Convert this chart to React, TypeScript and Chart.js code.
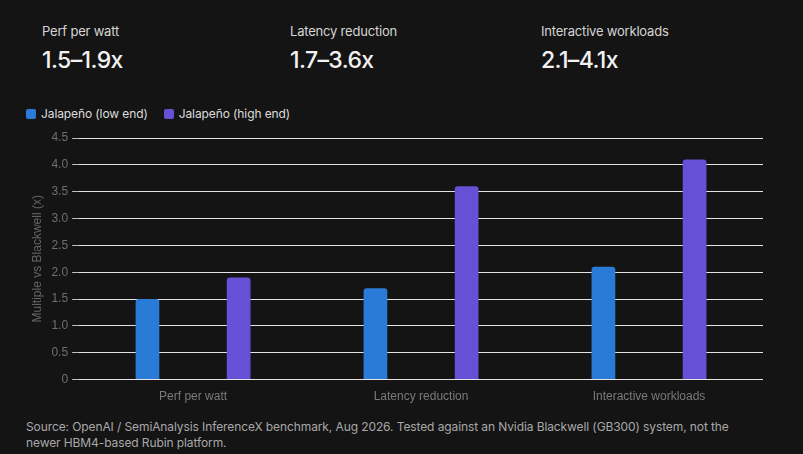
import Chart from "chart.js/auto";
import { useEffect, useRef } from "react";

const categories = ["Perf per watt", "Latency reduction", "Interactive workloads"];
const lowEnd = [1.5, 1.7, 2.1];
const highEnd = [1.9, 3.6, 4.1];
const seriesNames = ["Jalapeño (low end)", "Jalapeño (high end)"];
const seriesColors = ["#2a7bd8", "#6650d6"];
const yTicks = [0, 0.5, 1, 1.5, 2, 2.5, 3, 3.5, 4, 4.5];

const statLabels = ["Perf per watt", "Latency reduction", "Interactive workloads"];
const statValues = ["1.5–1.9x", "1.7–3.6x", "2.1–4.1x"];
const statLeft = [42, 290, 541];

const note =
  "Source: OpenAI / SemiAnalysis InferenceX benchmark, Aug 2026. Tested against an Nvidia Blackwell (GB300) system, not the newer HBM4-based Rubin platform.";

export default function App() {
  const canvasRef = useRef<HTMLCanvasElement | null>(null);

  useEffect(() => {
    document.body.style.margin = "0";
    if (!canvasRef.current) {
      return;
    }
    const ctx = canvasRef.current.getContext("2d");
    if (!ctx) {
      return;
    }

    const chart = new Chart(ctx, {
      type: "bar",
      data: {
        labels: categories,
        datasets: [
          {
            label: seriesNames[0],
            data: lowEnd,
            backgroundColor: seriesColors[0],
            borderRadius: 3,
            categoryPercentage: 0.8,
            barPercentage: 0.26,
          },
          {
            label: seriesNames[1],
            data: highEnd,
            backgroundColor: seriesColors[1],
            borderRadius: 3,
            categoryPercentage: 0.8,
            barPercentage: 0.26,
          },
        ],
      },
      options: {
        responsive: false,
        animation: false,
        layout: { padding: { top: 14, right: 0, bottom: 0, left: 0 } },
        plugins: {
          legend: { display: false },
          tooltip: { enabled: false },
        },
        scales: {
          x: {
            grid: { display: false, drawTicks: false },
            border: { color: "#e4e4e4", width: 1 },
            ticks: {
              color: "#7a7a7a",
              padding: 10,
              font: { family: "Liberation Sans", size: 12 },
            },
          },
          y: {
            min: 0,
            max: 4.5,
            afterBuildTicks: (scale) => {
              scale.ticks = yTicks.map((v) => ({ value: v }));
            },
            grid: {
              color: "#e4e4e4",
              lineWidth: 1,
              tickLength: 7,
              tickColor: "#bdbdbd",
            },
            border: { display: false },
            ticks: {
              color: "#6f6f6f",
              padding: 4,
              font: { family: "Liberation Sans", size: 12 },
              callback: (v) => (Number(v) === 0 ? "0" : Number(v).toFixed(1)),
            },
            title: {
              display: true,
              text: "Multiple vs Blackwell (x)",
              color: "#666666",
              padding: { top: 4, bottom: 3 },
              font: { family: "Liberation Sans", size: 12 },
            },
          },
        },
      },
    });

    return () => {
      chart.destroy();
    };
  }, []);

  return (
    <div
      style={{
        position: "relative",
        width: 803,
        height: 454,
        background: "#141414",
        overflow: "hidden",
        fontFamily: "Inter, sans-serif",
      }}
    >
      {statLabels.map((label, i) => (
        <div key={label} style={{ position: "absolute", left: statLeft[i], top: 23 }}>
          <div style={{ color: "#d4d4d4", fontSize: 13, lineHeight: "16px", letterSpacing: "-0.2px" }}>
            {label}
          </div>
          <div
            style={{
              color: "#f2f2f2",
              fontSize: 23,
              fontWeight: 500,
              lineHeight: "28px",
              marginTop: 7,
              letterSpacing: "-0.6px",
            }}
          >
            {statValues[i]}
          </div>
        </div>
      ))}

      <div
        style={{
          position: "absolute",
          left: 26,
          top: 106,
          display: "flex",
          alignItems: "center",
          gap: 16,
          fontSize: 12,
          color: "#dcdcdc",
        }}
      >
        {seriesNames.map((name, i) => (
          <div key={name} style={{ display: "flex", alignItems: "center", gap: 5 }}>
            <span
              style={{
                display: "inline-block",
                width: 10,
                height: 10,
                borderRadius: 2,
                background: seriesColors[i],
              }}
            />
            <span style={{ letterSpacing: "-0.1px" }}>{name}</span>
          </div>
        ))}
      </div>

      <div style={{ position: "absolute", left: 26, top: 124, width: 737, height: 290 }}>
        <canvas ref={canvasRef} width={737} height={290}></canvas>
      </div>

      <div
        style={{
          position: "absolute",
          left: 26,
          top: 419,
          width: 740,
          color: "#a8a8a8",
          fontSize: 12,
          lineHeight: "16px",
          letterSpacing: "-0.1px",
        }}
      >
        {note}
      </div>
    </div>
  );
}
